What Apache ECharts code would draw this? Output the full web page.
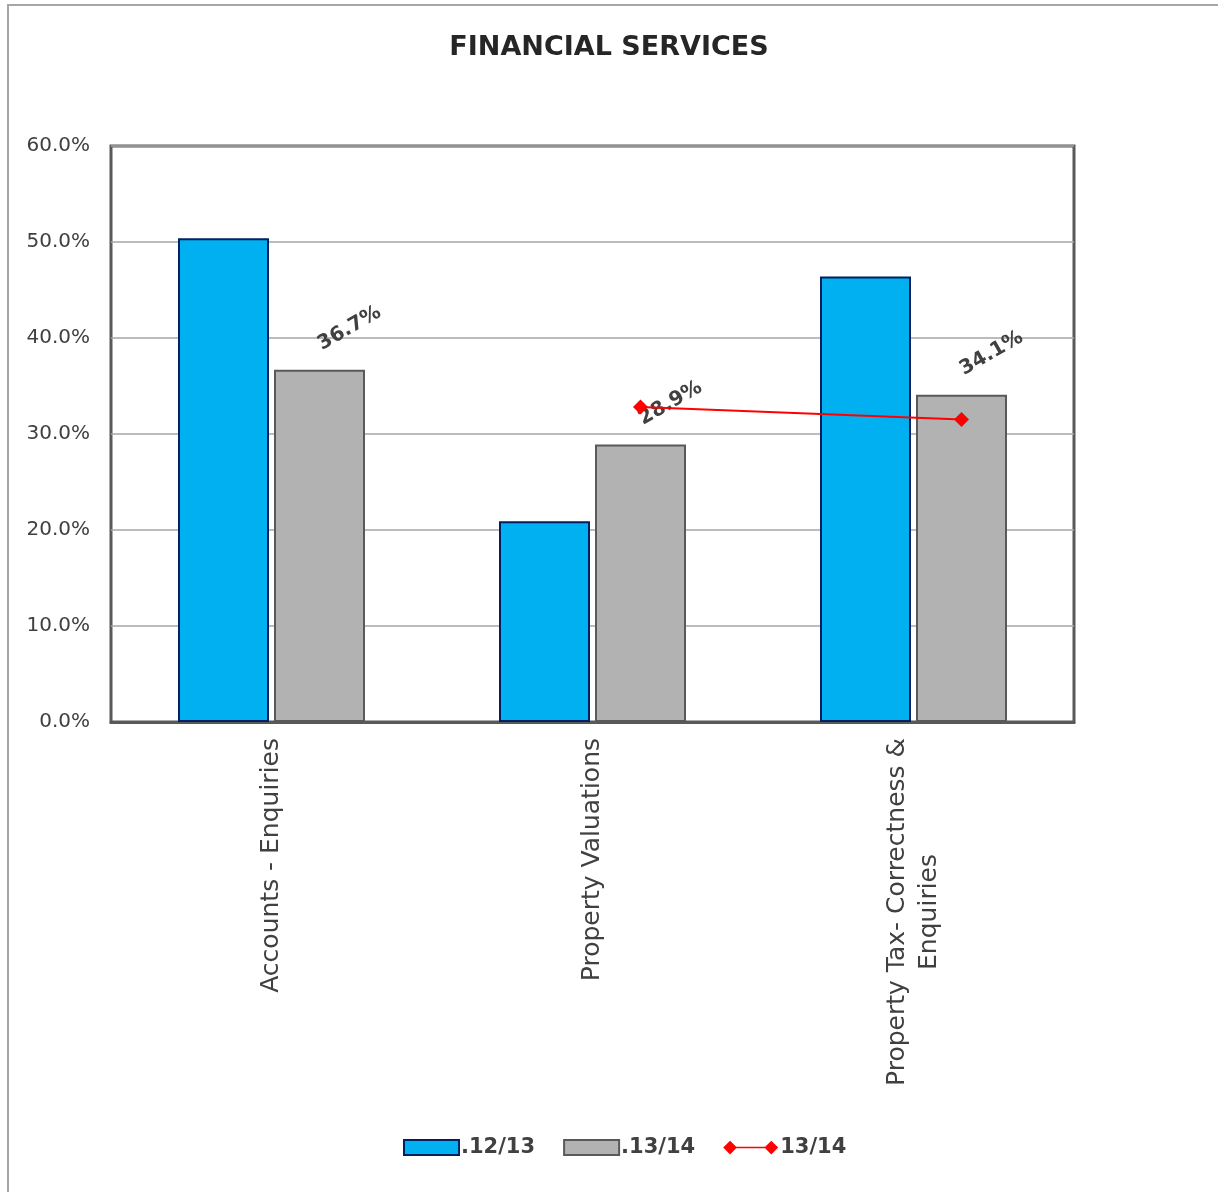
<!DOCTYPE html>
<html>
<head>
<meta charset="utf-8">
<title>Financial Services</title>
<script src="https://cdn.jsdelivr.net/npm/echarts@6/dist/echarts.min.js"></script>
<style>
  html, body { margin: 0; padding: 0; background: #ffffff; }
  #chart { width: 1218px; height: 1192px; }
</style>
</head>
<body>
<div id="chart"></div>
<script>
// Service categories and yearly percentages
var categories = ['Accounts - Enquiries', 'Property Valuations', 'Property Tax- Correctness &\nEnquiries'];
var values1213 = [50.4, 20.9, 46.4];
var values1314 = [36.7, 28.9, 34.1];
var line1314 = [null, 32.8, 31.5];
var yTicks = [0, 10, 20, 30, 40, 50, 60];

var FONT = 'DejaVu Sans';
var TEXT = '#404040';

// Layout constants
var GRID = { left: 111, top: 146, right: 144, bottom: 470 };
var BAR_W = 91, BAR_GAP_PX = 5;
var plotW = 1218 - GRID.left - GRID.right;
var catW = plotW / categories.length;
// shift of the second bar's centre from the category centre, in category units
var barShift = (BAR_W + BAR_GAP_PX) / 2 / catW;

// line points sit over the .13/14 bars
var linePoints = [];
line1314.forEach(function (v, i) {
  if (v !== null) linePoints.push([i + 0.5 + barShift, v]);
});

// width of the longest line of a label, used to centre wrapped lines
function textWidth(str, font) {
  var c = document.createElement('canvas').getContext('2d');
  c.font = font;
  return c.measureText(str).width;
}
var LABEL_SIZE = 25;
var wrapW = 0;
categories.forEach(function (c) {
  c.split('\n').forEach(function (l) {
    wrapW = Math.max(wrapW, textWidth(l, LABEL_SIZE + 'px "' + FONT + '"'));
  });
});

var chart = echarts.init(document.getElementById('chart'));
chart.setOption({
  animation: false,
  backgroundColor: '#ffffff',
  title: {
    text: 'FINANCIAL SERVICES',
    left: 'center',
    top: 29,
    textStyle: { fontFamily: FONT, fontWeight: 'bold', fontSize: 27, color: '#262626' }
  },
  graphic: [{
    type: 'polyline',
    shape: { points: [[8, 1300], [8, 5], [1300, 5]] },
    style: { fill: null, stroke: '#A6A6A6', lineWidth: 2 },
    silent: true
  }],
  grid: {
    left: GRID.left, top: GRID.top, right: GRID.right, bottom: GRID.bottom,
    show: true, borderColor: '#595959', borderWidth: 3, backgroundColor: 'transparent'
  },
  legend: {
    bottom: 29,
    left: 398,
    itemWidth: 55,
    itemHeight: 15,
    itemGap: 28,
    textStyle: { fontFamily: FONT, fontWeight: 'bold', fontSize: 21, color: TEXT, padding: [0, 0, 0, -3] },
    data: [
      { name: '.12/13', icon: 'rect' },
      { name: '.13/14', icon: 'rect' },
      { name: '13/14', icon: 'path://M0,8 L8,0 L16,8 L8,16 Z M8,7 L56,7 L56,9 L8,9 Z M48,8 L56,0 L64,8 L56,16 Z' }
    ]
  },
  xAxis: [{
    type: 'category',
    data: categories,
    axisLine: { show: true, lineStyle: { color: '#595959', width: 3 } },
    axisTick: { show: false },
    axisLabel: {
      rotate: 90,
      margin: 16,
      interval: 0,
      fontFamily: FONT,
      fontSize: LABEL_SIZE,
      color: TEXT,
      formatter: function (v) {
        if (v.indexOf('\n') < 0) return v;
        return v.split('\n').map(function (l) { return '{w|' + l + '}'; }).join('\n');
      },
      rich: {
        w: { width: wrapW, align: 'center', fontFamily: FONT, fontSize: LABEL_SIZE, color: TEXT, lineHeight: 32 }
      }
    }
  }, {
    type: 'value',
    min: 0,
    max: categories.length,
    show: false
  }],
  yAxis: {
    type: 'value',
    min: 0,
    max: 60,
    interval: 10,
    axisLine: { show: false },
    axisTick: { show: false },
    splitLine: { lineStyle: { color: '#A6A6A6', width: 1.5 } },
    axisLabel: {
      margin: 21,
      fontFamily: FONT,
      fontSize: 20,
      color: TEXT,
      formatter: function (v) { return yTicks.indexOf(v) >= 0 ? v.toFixed(1) + '%' : ''; }
    }
  },
  series: [{
    name: '.12/13',
    type: 'bar',
    data: values1213,
    barWidth: BAR_W,
    barGap: (BAR_GAP_PX / BAR_W * 100) + '%',
    itemStyle: { color: '#00B0F0', borderColor: '#002060', borderWidth: 2 }
  }, {
    name: '.13/14',
    type: 'bar',
    data: values1314,
    barWidth: BAR_W,
    itemStyle: { color: '#B2B2B2', borderColor: '#595959', borderWidth: 2 },
    label: {
      show: true,
      position: 'top',
      distance: 24,
      rotate: 30,
      align: 'left',
      verticalAlign: 'middle',
      fontFamily: FONT,
      fontWeight: 'bold',
      fontSize: 20,
      color: TEXT,
      formatter: function (p) { return p.value.toFixed(1) + '%'; }
    }
  }, {
    name: '13/14',
    type: 'line',
    xAxisIndex: 1,
    data: linePoints,
    symbol: 'diamond',
    symbolSize: 15,
    lineStyle: { color: '#FF0000', width: 2 },
    itemStyle: { color: '#FF0000' },
    z: 5
  }]
});
</script>
</body>
</html>
